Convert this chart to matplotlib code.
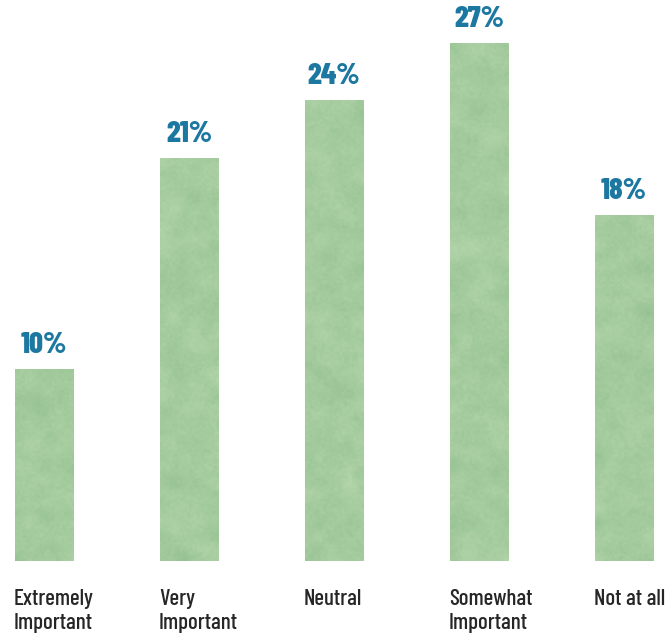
import numpy as np
import matplotlib
matplotlib.use("Agg")
import matplotlib.pyplot as plt
from matplotlib.colors import LinearSegmentedColormap

categories = ["Extremely\nImportant", "Very\nImportant", "Neutral", "Somewhat\nImportant", "Not at all"]
values = [10, 21, 24, 27, 18]
value_labels = ["10%", "21%", "24%", "27%", "18%"]

BAR_W = 0.4
NUM_COLOR = "#1c78a0"
TEXT_COLOR = "#262626"
FONT = ["Barlow Condensed", "DejaVu Sans"]

fig = plt.figure(figsize=(6.71, 6.36), dpi=100)
ax = fig.add_axes([0, 0, 1, 1])
ax.axis("off")

# paper-like green texture for the bars
rng = np.random.default_rng(7)
green = LinearSegmentedColormap.from_list("paper", ["#8fbd8c", "#a5cc9e", "#bddcb4"])

x = np.arange(len(values))
bars = ax.bar(x, values, width=BAR_W, color="#a5cc9e", edgecolor="none", zorder=1)

for bar in bars:
    x0, w, h = bar.get_x(), bar.get_width(), bar.get_height()
    coarse = rng.normal(size=(int(h * 2) + 2, 6))
    fine = rng.normal(size=(int(h * 8) + 2, 24))
    tex = ax.imshow(coarse, cmap=green, extent=(x0, x0 + w, 0, h), aspect="auto",
                    interpolation="bicubic", vmin=-2.5, vmax=2.5, zorder=2)
    tex.set_clip_path(bar)
    tex2 = ax.imshow(fine, cmap=green, extent=(x0, x0 + w, 0, h), aspect="auto",
                     interpolation="bilinear", vmin=-3, vmax=3, alpha=0.35, zorder=3)
    tex2.set_clip_path(bar)

ax.set_xlim(-0.3034, 4.324)
ax.set_ylim(-3.906, 29.22)

for xi, v, lab in zip(x, values, value_labels):
    ax.text(xi, v + 0.83, lab, ha="center", va="baseline", color=NUM_COLOR,
            fontsize=22, fontweight=800, fontstyle="normal", family=FONT)

# category names, left-aligned under each bar, one line at a time
line_y = [-2.29, -3.54]
for xi, cat in zip(x, categories):
    for k, line in enumerate(cat.split("\n")):
        ax.text(xi - BAR_W / 2 - 0.007, line_y[k], line, ha="left", va="baseline",
                color=TEXT_COLOR, fontsize=16.5, fontweight=500, fontstyle="normal",
                family=FONT)

fig.savefig("out.png", dpi=100, facecolor="white")
